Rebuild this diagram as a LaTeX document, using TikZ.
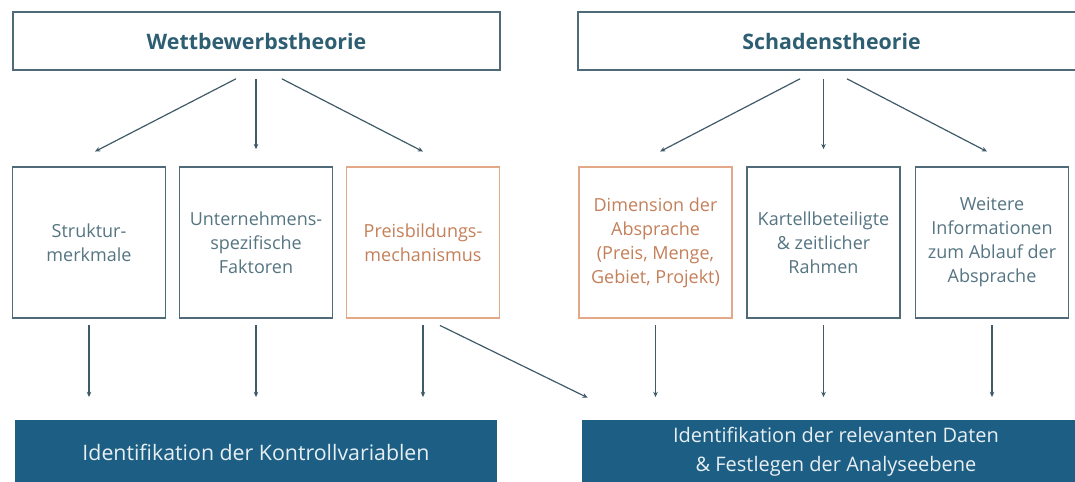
\documentclass[tikz,border=0pt]{standalone}
\usepackage{fontspec}
\setmainfont{Open Sans}
\usetikzlibrary{arrows.meta,calc}

\definecolor{tealdark}{HTML}{2E5E72}
\definecolor{framegray}{HTML}{4F6B78}
\definecolor{textgray}{HTML}{557582}
\definecolor{rustline}{HTML}{E3A888}
\definecolor{rusttext}{HTML}{C4805A}
\definecolor{petrol}{HTML}{1C5E84}
\definecolor{arrowgray}{HTML}{3F5A68}

\tikzset{
  theory/.style={draw=framegray, line width=1.2pt, fill=white, minimum height=43.5pt,
    text=tealdark, font=\fontsize{16}{18}\selectfont\bfseries},
  factor/.style={draw=framegray, line width=1.2pt, fill=white, minimum width=114.75pt,
    minimum height=113.25pt, align=center, text=textgray, font=\fontsize{13.5}{18}\selectfont},
  pricefactor/.style={factor, draw=rustline, text=rusttext},
  goal/.style={fill=petrol, minimum height=48pt, align=center, text=white!90!petrol,
    font=\fontsize{15}{21.75}\selectfont},
  link/.style={-{Stealth[length=4pt,width=3.5pt]}, draw=arrowgray, line width=0.9pt},
}

\begin{document}
\begin{tikzpicture}[x=0.75pt, y=-0.75pt]
    % page = 1075 x 482 px
    \useasboundingbox (0,0) rectangle (1075,482);
    \clip (0,0) rectangle (1075,482);

    % --- theories ---
    \node[theory, minimum width=365.25pt] (wett) at (256.5,41) {Wettbewerbstheorie};
    \node[theory, minimum width=380.25pt] (schaden) at (831.5,41) {Schadenstheorie};

    % --- factors ---
    \node[factor] (struktur) at (89,242.5) {Struktur-\\merkmale};
    \node[factor] (unternehmen) at (256,242.5) {Unternehmens-\\spezifische\\Faktoren};
    \node[pricefactor] (preis) at (423,242.5) {Preisbildungs-\\mechanismus};
    \node[pricefactor] (dimension) at (655.5,242.5) {Dimension der\\Absprache\\(Preis, Menge,\\Gebiet, Projekt)};
    \node[factor] (kartell) at (823.5,242.5) {Kartellbeteiligte\\\& zeitlicher\\Rahmen};
    \node[factor] (ablauf) at (992,242.5) {Weitere\\Informationen\\zum Ablauf der\\Absprache};

    % --- results ---
    \node[goal, minimum width=361.5pt, font=\fontsize{16}{21.75}\selectfont] (kontroll) at (256,452) {Identifikation der Kontrollvariablen};
    \node[goal, minimum width=381pt] (daten) at (836,452) {Identifikation der relevanten Daten\\\& Festlegen der Analyseebene};

    % --- arrows theory -> factors ---
    \draw[link] ([xshift=-15.4pt,yshift=-6pt]wett.south) -- ([xshift=4.5pt,yshift=11pt]struktur.north);
    \draw[link] ($(unternehmen.north |- wett.south)+(0,-6pt)$) -- ([yshift=12.75pt]unternehmen.north);
    \draw[link] ([xshift=19pt,yshift=-6pt]wett.south) -- ([yshift=11pt]preis.north);

    \draw[link] ([xshift=-23.6pt,yshift=-6pt]schaden.south) -- ([xshift=3.4pt,yshift=11pt]dimension.north);
    \draw[link] ($(kartell.north |- schaden.south)+(0,-6pt)$) -- ([yshift=12.75pt]kartell.north);
    \draw[link] ([xshift=11.6pt,yshift=-6pt]schaden.south) -- ([xshift=-3.75pt,yshift=11pt]ablauf.north);

    % --- arrows factors -> results ---
    \foreach \a/\b in {struktur/kontroll, unternehmen/kontroll, preis/kontroll,
                       dimension/daten, kartell/daten, ablauf/daten}
        \draw[link] ([yshift=-5pt]\a.south) -- ($(\a.south |- \b.north)+(0,17pt)$);
    \draw[link] ([xshift=12.75pt,yshift=-5pt]preis.south) -- ([xshift=4.5pt,yshift=16.5pt]daten.north west);
\end{tikzpicture}
\end{document}
